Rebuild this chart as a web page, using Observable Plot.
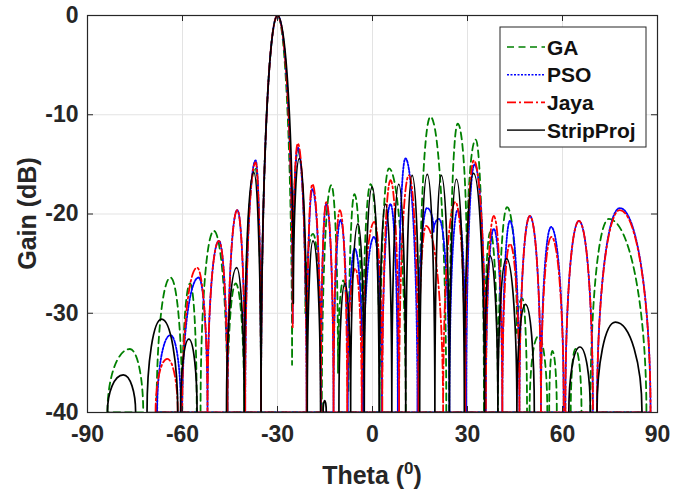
<!DOCTYPE html>
<html>
<head>
<meta charset="utf-8">
<script src="https://cdn.jsdelivr.net/npm/d3@7"></script>
<script src="https://cdn.jsdelivr.net/npm/@observablehq/plot@0.6"></script>
<style>
  html, body { margin: 0; padding: 0; background: #fff; }
  #chart { position: relative; width: 673px; height: 495px; }
</style>
</head>
<body>
<div id="chart"></div>
<script>
// ---- data (theta in degrees, gain in dB; -40 = pattern leaves the plotted range) ----
const xTicks = [-90, -60, -30, 0, 30, 60, 90];
const yTicks = [-40, -30, -20, -10, 0];
const seriesNames = ["GA", "PSO", "Jaya", "StripProj"];

const gaPoints = [
  [-83.7,-40],[-76.6,-33.6],[-72.4,-40],
  [-68.2,-40],[-63.8,-26.4],[-60.1,-40],[-57.6,-27.0],[-55.5,-40],
  [-54.3,-40],[-50.1,-21.7],[-45.8,-40],[-43.2,-27.0],[-40.5,-40],[-37.0,-15.3],[-35.2,-40],
  [-30.0,0],[-25.4,-35.2],[-23.6,-13.6],[-21.2,-30],[-18.8,-22],[-16.0,-40],[-13.0,-17.1],
  [-10.9,-36],[-9.2,-26.7],[-7.6,-38],[-5.7,-18.0],[-3.2,-40],[-0.6,-17.0],[2.3,-40],[5.2,-15.4],[10.5,-40],
  [14.5,-40],[18.3,-10.2],[23.3,-40],
  [24.2,-40],[26.9,-10.9],[29.8,-26],[32.6,-12.5],[35.2,-40],[37.2,-21.8],[39.6,-40],[42.5,-19.3],
  [45.6,-32],[47.3,-28.5],[48.8,-40],
  [49.6,-40],[52.4,-32.3],[55.2,-40],
  [55.8,-40],[56.8,-33.8],[58.2,-40],
  [62.6,-40],[64.1,-33.6],[66.0,-40],
  [68.8,-40],[74.6,-20.5],[86.5,-40]
];

const psoPoints = [
  [-68.0,-40],[-63.8,-32.2],[-60.5,-40],
  [-60.1,-40],[-54.9,-26.4],[-52.1,-40],[-48.5,-22.7],[-45.8,-40],[-42.7,-19.6],[-40.2,-40],
  [-36.9,-14.6],[-35.2,-40],[-30.0,0],[-25.2,-31.0],[-23.6,-13.3],[-20.8,-40],[-19.0,-17.5],
  [-16.3,-40],[-14.6,-19.0],[-12.3,-40],[-10.1,-20.6],[-7.8,-40],[-5.6,-23.5],[-3.0,-40],
  [0.5,-22.3],[3.0,-40],[5.7,-19.0],[8.0,-40],[10.4,-14.4],[14.2,-40],[17.2,-19.4],[19.3,-21.8],
  [21.0,-20.5],[24.3,-40],[26.9,-19.6],[29.6,-40],[32.2,-15.0],[35.8,-40],[38.3,-21.5],[41.0,-40],
  [43.4,-20.7],[46.4,-40],[49.7,-20.2],[53.2,-40],[56.4,-21.3],[60.4,-40],
  [60.9,-40],[65.2,-20.7],[69.6,-40],
  [70.9,-40],[78.1,-19.4],[87.8,-40]
];

const jayaPoints = [
  [-68.5,-40],[-64.8,-34.6],[-61.5,-40],
  [-60.1,-40],[-55.4,-25.4],[-52.1,-40],[-48.5,-22.7],[-45.8,-40],[-42.7,-19.6],[-40.2,-40],
  [-36.9,-14.8],[-35.2,-40],[-30.0,0],[-25.2,-31.4],[-23.6,-12.9],[-20.8,-40],[-19.0,-17.0],
  [-16.3,-40],[-14.6,-18.8],[-12.3,-40],[-10.3,-19.6],[-8.0,-40],[-5.4,-25.5],[-3.4,-40],
  [0.6,-20.8],[3.1,-40],[5.7,-16.6],[8.4,-40],[11.5,-16.1],[14.5,-40],[16.9,-21.2],[22.3,-40],
  [26.2,-18.8],[29.3,-40],[32.0,-14.6],[35.8,-40],[38.3,-20.2],[41.0,-40],[43.4,-23.0],[46.4,-40],
  [49.7,-20.2],[53.2,-40],[56.5,-22.3],[60.4,-40],
  [60.9,-40],[65.2,-20.7],[69.6,-40],
  [70.9,-40],[78.1,-19.6],[87.8,-40]
];

const stripProjPoints = [
  [-83.7,-40],[-78.7,-36.2],[-74.8,-40],
  [-71.2,-40],[-66.6,-30.6],[-61.5,-40],
  [-60.6,-40],[-58.0,-32.6],[-55.4,-40],
  [-46.1,-40],[-42.9,-25.4],[-40.5,-40],[-37.5,-15.8],[-35.2,-40],[-30.0,0],[-25.0,-29.0],
  [-23.1,-14.4],[-20.6,-40],[-18.8,-22.7],[-16.4,-40],
  [-15.6,-40],[-15.1,-38.8],[-14.6,-40],
  [-10.6,-40],[-8.7,-27.0],[-6.9,-40],[-4.6,-21.0],[-2.6,-40],[-0.1,-17.3],[2.1,-40],[4.1,-19.0],
  [6.1,-40],[8.3,-17.0],[10.5,-40],[12.5,-16.1],[14.9,-40],[17.3,-16.0],[19.7,-40],[21.7,-16.1],
  [24.3,-40],[26.5,-16.5],[29.0,-40],[31.9,-15.9],[35.4,-40],[37.1,-24.2],[39.6,-40],[42.3,-24.5],
  [45.6,-40],[48.3,-29.1],[51.1,-40],
  [62.0,-40],[65.5,-33.4],[68.8,-40],
  [70.9,-40],[76.7,-30.9],[85.1,-40]
];

// ---- styles ----
const styles = {
  GA:        {stroke: "#008000", dash: "7,4.5",   width: 1.8},
  PSO:       {stroke: "#0000ff", dash: "2,1.5",   width: 1.8},
  Jaya:      {stroke: "#ff0000", dash: "9,3,2,3", width: 1.8},
  StripProj: {stroke: "#000000", dash: null,      width: 1.7}
};
const pointsByName = {GA: gaPoints, PSO: psoPoints, Jaya: jayaPoints, StripProj: stripProjPoints};

// split a series into visible pieces (a gap wherever two successive points sit at the floor)
function toRows(name, pts) {
  let seg = 0;
  return pts.map(([theta, gain], i) => {
    if (i > 0 && gain <= -40 && pts[i - 1][1] <= -40) seg++;
    return {theta, gain, series: name, seg: name + "-" + seg};
  });
}

// lobe curve: horizontal tangent at the higher end, vertical tangent at the lower end
function Arch(context) { this._context = context; }
Arch.prototype = {
  areaStart() { this._line = 0; },
  areaEnd() { this._line = NaN; },
  lineStart() { this._point = 0; },
  lineEnd() {
    if (this._line || (this._line !== 0 && this._point === 1)) this._context.closePath();
    this._line = 1 - this._line;
  },
  point(x, y) {
    x = +x; y = +y;
    if (this._point === 0) {
      this._point = 1;
      this._line ? this._context.lineTo(x, y) : this._context.moveTo(x, y);
    } else {
      const x0 = this._x0, y0 = this._y0, k = 0.55;
      if (y < y0) {
        this._context.bezierCurveTo(x0, y0 + k * (y - y0), x - k * (x - x0), y, x, y);
      } else if (y > y0) {
        this._context.bezierCurveTo(x0 + k * (x - x0), y0, x, y - k * (y - y0), x, y);
      } else {
        this._context.lineTo(x, y);
      }
    }
    this._x0 = x; this._y0 = y;
  }
};
const curveArch = (context) => new Arch(context);

const W = 673, H = 495;
const margin = {left: 87, right: 16, top: 15, bottom: 83};
const innerW = W - margin.left - margin.right;
const innerH = H - margin.top - margin.bottom;
const axisColor = "#262626";
const gridColor = "#e3e3e3";
const tickLen = 6;

const lineMarks = seriesNames.map(name => {
  const s = styles[name];
  return Plot.line(toRows(name, pointsByName[name]), {
    x: "theta", y: "gain", z: "seg",
    stroke: s.stroke, strokeWidth: s.width,
    strokeDasharray: s.dash, curve: curveArch, clip: true
  });
});

const plot = Plot.plot({
  width: W, height: H,
  marginLeft: margin.left, marginRight: margin.right,
  marginTop: margin.top, marginBottom: margin.bottom,
  style: {fontFamily: "'Liberation Sans', Arial, sans-serif", fontWeight: "bold", fontSize: "23px", color: axisColor, background: "#fff"},
  x: {domain: [-90, 90]},
  y: {domain: [-40, 0]},
  marks: [
    Plot.gridX(xTicks, {stroke: gridColor, strokeOpacity: 1, strokeWidth: 1}),
    Plot.gridY(yTicks, {stroke: gridColor, strokeOpacity: 1, strokeWidth: 1}),
    ...lineMarks,
    Plot.tickX(xTicks, {stroke: axisColor, insetTop: innerH - tickLen}),
    Plot.tickX(xTicks, {stroke: axisColor, insetBottom: innerH - tickLen}),
    Plot.tickY(yTicks, {stroke: axisColor, insetRight: innerW - tickLen}),
    Plot.tickY(yTicks, {stroke: axisColor, insetLeft: innerW - tickLen}),
    Plot.frame({stroke: axisColor, strokeWidth: 1.2}),
    Plot.axisX(xTicks, {tickSize: 0, tickPadding: 13, tickFormat: d => String(d), label: null, fontWeight: "bold"}),
    Plot.axisY(yTicks, {tickSize: 0, tickPadding: 9, tickFormat: d => String(d), label: null, fontWeight: "bold"})
  ]
});

document.getElementById("chart").appendChild(plot);

// axis titles and legend
const svg = d3.select(plot);
const xt = svg.append("text")
  .attr("x", margin.left + innerW / 2).attr("y", 484)
  .attr("text-anchor", "middle")
  .style("font", "bold 25px 'Liberation Sans', Arial, sans-serif").attr("fill", axisColor);
xt.append("tspan").text("Theta (");
xt.append("tspan").attr("font-size", "17px").attr("dy", "-10").text("0");
xt.append("tspan").attr("dy", "10").text(")");

svg.append("text")
  .attr("transform", `translate(36, ${margin.top + innerH / 2}) rotate(-90)`)
  .attr("text-anchor", "middle")
  .style("font", "bold 25px 'Liberation Sans', Arial, sans-serif").attr("fill", axisColor)
  .text("Gain (dB)");

const lg = svg.append("g").attr("transform", "translate(500,27)").attr("text-anchor", "start");
lg.append("rect").attr("width", 146).attr("height", 120)
  .attr("fill", "#fff").attr("stroke", axisColor).attr("stroke-width", 1);
seriesNames.forEach((name, i) => {
  const s = styles[name];
  const cy = 20 + i * 27.7;
  lg.append("line").attr("x1", 7).attr("x2", 45).attr("y1", cy).attr("y2", cy)
    .attr("stroke", name === "StripProj" ? "#333" : s.stroke).attr("stroke-width", 1.6)
    .attr("stroke-dasharray", s.dash);
  lg.append("text").attr("x", 47).attr("y", cy).attr("dy", "0.36em")
    .attr("text-anchor", "start")
    .style("font", "bold 21px 'Liberation Sans', Arial, sans-serif").attr("fill", "#111")
    .text(name);
});
</script>
</body>
</html>
